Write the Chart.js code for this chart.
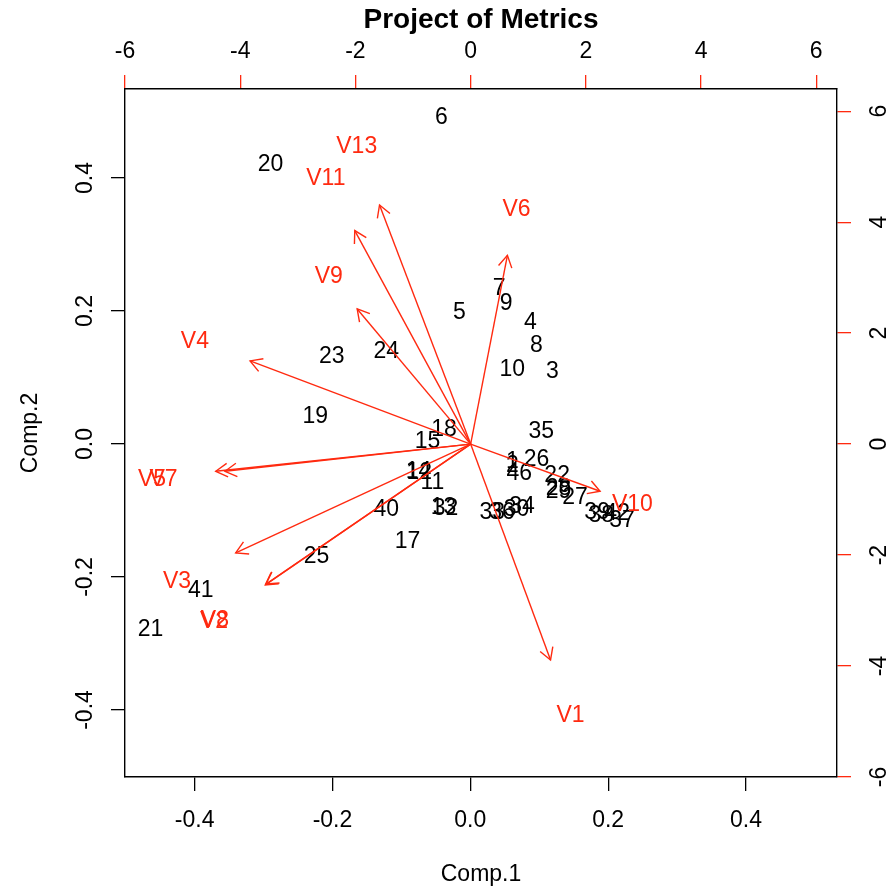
<!DOCTYPE html>
<html><head><meta charset="utf-8">
<script src="https://cdn.jsdelivr.net/npm/chart.js@4/dist/chart.umd.min.js"></script>
<style>html,body{margin:0;padding:0;background:#fff}#wrap{width:887px;height:892px}</style>
</head><body><div id="wrap"><canvas id="c" width="887" height="892"></canvas></div>
<script>
// ---- observation scores (Comp.1, Comp.2) ----
const obsLabels = ["1","2","3","4","5","6","7","8","9","10","11","12","13","14","15","17","18","19","20","21","22","23","24","25","26","27","28","29","30","32","33","34","35","36","37","38","39","40","41","42","46"];
const obsX = [0.061,0.061,0.119,0.087,-0.016,-0.042,0.042,0.096,0.052,0.061,-0.055,-0.074,-0.039,-0.075,-0.062,-0.091,-0.038,-0.225,-0.290,-0.464,0.126,-0.201,-0.122,-0.223,0.096,0.152,0.128,0.128,0.067,-0.036,0.032,0.075,0.103,0.046,0.220,0.190,0.184,-0.122,-0.391,0.213,0.071];
const obsY = [-0.024,-0.030,0.111,0.185,0.200,0.493,0.236,0.150,0.214,0.114,-0.056,-0.041,-0.093,-0.039,0.006,-0.144,0.024,0.044,0.423,-0.277,-0.045,0.134,0.141,-0.167,-0.020,-0.078,-0.065,-0.069,-0.096,-0.095,-0.101,-0.092,0.021,-0.101,-0.113,-0.105,-0.101,-0.096,-0.217,-0.102,-0.042];
// ---- variable loadings (top / right scale) ----
const varLabels = ["V1","V2","V3","V4","V5","V6","V7","V8","V9","V10","V11","V13"];
const varX = [1.734,-4.456,-5.098,-4.786,-5.531,0.798,-5.33,-4.439,-2.462,2.809,-2.514,-1.977];
const varY = [-4.865,-3.171,-2.450,1.874,-0.613,4.252,-0.613,-3.153,3.045,-1.063,4.811,5.387];
const arrowShrink = 0.8;
// ---- ticks ----
const xTicks = [-0.4,-0.2,0,0.2,0.4];
const xTickLabels = ["-0.4","-0.2","0.0","0.2","0.4"];
const yTicks = [-0.4,-0.2,0,0.2,0.4];
const yTickLabels = ["-0.4","-0.2","0.0","0.2","0.4"];
const topTicks = [-6,-4,-2,0,2,4,6];
const topTickLabels = ["-6","-4","-2","0","2","4","6"];
const rightTicks = [-6,-4,-2,0,2,4,6];
const rightTickLabels = ["-6","-4","-2","0","2","4","6"];

const FONT = '"Liberation Sans", Arial, Helvetica, sans-serif';
const RED = '#FF2A10';
const FS = 23;

function txt(ctx, s, x, y, size, color) {
  ctx.font = size + 'px ' + FONT;
  ctx.fillStyle = color; ctx.textAlign = 'center'; ctx.textBaseline = 'alphabetic';
  ctx.fillText(s, x, y + 0.358 * size);
}

const biplotText = {
  id: 'biplotText',
  beforeDatasetsDraw(chart) {
    const ctx = chart.ctx; ctx.save();
    chart.getDatasetMeta(0).data.forEach((pt, i) => txt(ctx, obsLabels[i], pt.x, pt.y, FS, '#000'));
    ctx.restore();
  },
  afterDatasetsDraw(chart) {
    const ctx = chart.ctx; ctx.save();
    for (let k = 0; k < varLabels.length; k++) {
      const m = chart.getDatasetMeta(2 + k);
      const p0 = m.data[0], p1 = m.data[1];
      const ang = Math.atan2(p1.y - p0.y, p1.x - p0.x);
      const L = 13.5, a = Math.PI / 6;
      ctx.beginPath();
      ctx.moveTo(p1.x - L * Math.cos(ang - a), p1.y - L * Math.sin(ang - a));
      ctx.lineTo(p1.x, p1.y);
      ctx.lineTo(p1.x - L * Math.cos(ang + a), p1.y - L * Math.sin(ang + a));
      ctx.strokeStyle = RED; ctx.lineWidth = 1.4; ctx.lineJoin = 'miter'; ctx.stroke();
    }
    chart.getDatasetMeta(1).data.forEach((pt, i) => txt(ctx, varLabels[i], pt.x, pt.y, FS, RED));
    ctx.restore();
  }
};

function fixTicks(vals) { return function (scale) { scale.ticks = vals.map(v => ({ value: v })); }; }
function lab(arr) { return function (v, i) { return arr[i]; }; }

const datasets = [
  { data: obsX.map((x, i) => ({ x: x, y: obsY[i] })), xAxisID: 'x', yAxisID: 'y', pointRadius: 0, showLine: false },
  { data: varX.map((x, i) => ({ x: x, y: varY[i] })), xAxisID: 'x2', yAxisID: 'y2', pointRadius: 0, showLine: false }
];
varX.forEach((x, i) => {
  datasets.push({
    data: [{ x: 0, y: 0 }, { x: x * arrowShrink, y: varY[i] * arrowShrink }],
    xAxisID: 'x2', yAxisID: 'y2', showLine: true, borderColor: RED, borderWidth: 1.4,
    pointRadius: 0, fill: false, tension: 0
  });
});

const tickFont = { family: FONT, size: FS };
new Chart(document.getElementById('c'), {
  type: 'scatter',
  data: { datasets },
  plugins: [biplotText],
  options: {
    responsive: false, animation: false, events: [], devicePixelRatio: 1,
    layout: { padding: 0 },
    plugins: {
      legend: { display: false }, tooltip: { enabled: false },
      title: { display: true, text: 'Project of Metrics', fullSize: false, color: '#000',
        font: { family: FONT, size: 28, weight: 'bold', lineHeight: 1.2 }, padding: { top: 3, bottom: 0 } }
    },
    scales: {
      x: { type: 'linear', position: 'bottom', min: -0.501, max: 0.532,
        afterBuildTicks: fixTicks(xTicks), afterFit: s => { s.height = 115; },
        ticks: { callback: lab(xTickLabels), font: tickFont, color: '#000', padding: 16, autoSkip: false, maxRotation: 0 },
        grid: { drawOnChartArea: false, tickLength: 14, color: '#000', tickColor: '#000', lineWidth: 1.3 },
        border: { display: true, color: '#000', width: 1.4 },
        title: { display: true, text: 'Comp.1', color: '#000', font: { family: FONT, size: FS, lineHeight: 1.2 }, padding: { top: 0, bottom: 3.2 } } },
      y: { type: 'linear', position: 'left', min: -0.5008, max: 0.5338,
        afterBuildTicks: fixTicks(yTicks), afterFit: s => { s.width = 125; },
        ticks: { callback: lab(yTickLabels), font: tickFont, color: '#000', padding: 6, autoSkip: false, minRotation: 90, maxRotation: 90, crossAlign: 'center' },
        grid: { drawOnChartArea: false, tickLength: 14, color: '#000', tickColor: '#000', lineWidth: 1.3 },
        border: { display: true, color: '#000', width: 1.4 },
        title: { display: true, text: 'Comp.2', color: '#000', font: { family: FONT, size: FS, lineHeight: 1.2 }, padding: { top: 17, bottom: 0 } } },
      x2: { type: 'linear', position: 'top', min: -6.0, max: 6.36,
        afterBuildTicks: fixTicks(topTicks), afterFit: s => { s.height = 52.4; },
        ticks: { callback: lab(topTickLabels), font: tickFont, color: '#000', padding: 10, autoSkip: false, maxRotation: 0 },
        grid: { drawOnChartArea: false, tickLength: 14, color: RED, tickColor: RED, lineWidth: 1.3 },
        border: { display: true, color: '#000', width: 1.4 } },
      y2: { type: 'linear', position: 'right', min: -6.0, max: 6.4,
        afterBuildTicks: fixTicks(rightTicks), afterFit: s => { s.width = 50; },
        ticks: { callback: lab(rightTickLabels), font: tickFont, color: '#000', padding: 18, autoSkip: false, minRotation: 90, maxRotation: 90, crossAlign: 'center' },
        grid: { drawOnChartArea: false, tickLength: 14, color: RED, tickColor: RED, lineWidth: 1.3 },
        border: { display: true, color: '#000', width: 1.4 } }
    }
  }
});
</script></body></html>
